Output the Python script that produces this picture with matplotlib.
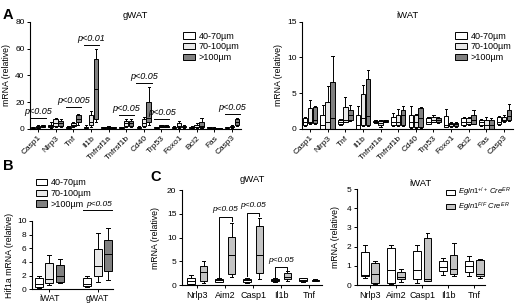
import matplotlib
matplotlib.use("Agg")
import matplotlib.pyplot as plt
from matplotlib.patches import Patch

plt.rcParams["font.family"] = ["Liberation Sans", "DejaVu Sans"]
plt.rcParams["mathtext.fontset"] = "custom"
plt.rcParams["mathtext.rm"] = "Liberation Sans"
plt.rcParams["mathtext.it"] = "Liberation Sans:italic"
plt.rcParams["axes.linewidth"] = 0.8

# ---- data: each entry is (whisker low, q1, median, q3, whisker high) ----
genes_a = ["Casp1", "Nlrp3", "Tnf", "Il1b", "Tnfrsf1a", "Tnfrsf1b", "Cd40",
           "Trp53", "Foxo1", "Bcl2", "Fas", "Casp3"]
size_labels = ["40-70µm", "70-100µm", ">100µm"]

gwat_small = [(0.3, 0.6, 0.9, 1.2, 1.5), (0.5, 1, 2, 3, 5), (0.5, 0.8, 1, 1.5, 2),
              (0.5, 0.8, 1, 1.5, 2.5), (0.5, 0.8, 1, 1.2, 1.5), (0.5, 0.8, 1, 1.2, 1.5),
              (0.5, 0.8, 1, 1.5, 2), (0.5, 0.8, 1, 1.2, 1.5), (0.5, 0.8, 1, 1.5, 2),
              (0.5, 0.8, 1, 1.5, 2), (0.5, 0.8, 1, 1.2, 1.5), (0.5, 0.8, 1, 1.2, 1.5)]
gwat_mid = [(0.5, 0.8, 1.2, 1.8, 2.5), (1, 2, 4, 7, 8), (1, 2, 3, 4, 5),
            (1, 3, 5, 10, 13), (0.5, 0.8, 1, 1.4, 2), (1, 2, 4, 6, 7),
            (1, 2, 4, 7, 9), (1, 1.5, 2, 2.5, 3), (0.5, 1, 2, 4, 6),
            (0.5, 1, 1.5, 3, 4), (0.2, 0.3, 0.5, 0.8, 1), (0.5, 1, 1.5, 2, 3)]
gwat_large = [(1, 1.5, 2, 2.5, 3), (1, 2, 4, 6, 7), (3, 5, 7, 10, 11),
              (5, 7, 30, 52, 60), (0.5, 0.8, 1, 1.3, 1.7), (1, 2, 4, 6, 7),
              (3, 5, 8, 20, 31), (1, 1.3, 1.6, 2, 2.5), (0.5, 1, 1.5, 2, 2.5),
              (0.5, 1, 2, 5, 8), (0.1, 0.2, 0.3, 0.5, 0.7), (2, 3, 5, 7, 8)]
gwat_pvals = ["p<0.05", None, "p<0.005", "p<0.01", None, "p<0.05", "p<0.05",
              "p<0.05", None, None, None, "p<0.05"]
gwat_pline = [8, None, 16, 63, None, 10.5, 34, 7, None, None, None, 11]

iwat_small = [(0.4, 0.5, 1, 1.5, 1.7), (0, 0, 0.5, 2, 3.3), (0.5, 0.6, 1, 1.3, 1.4),
              (0, 0, 0.5, 1.9, 3.2), (0.8, 0.9, 1, 1.1, 1.2), (0.4, 0.5, 1, 1.6, 2.2),
              (0.1, 0.2, 1, 2, 3.2), (0.6, 0.7, 1, 1.5, 1.6), (0.2, 0.3, 0.5, 1.8, 2.8),
              (0.4, 0.5, 1, 1.5, 1.6), (0.4, 0.5, 1, 1.2, 1.4), (0.5, 0.6, 1, 1.7, 1.8)]
iwat_mid = [(0.7, 0.8, 1, 2.9, 4), (0, 0, 1, 3.7, 6), (1, 1, 1.2, 3.1, 4.5),
            (0.4, 0.5, 1.5, 4.9, 6.2), (0.2, 0.5, 0.8, 1.1, 1.2), (0.4, 0.5, 1, 2, 2.8),
            (0.1, 0.2, 1, 1.9, 2.1), (0.9, 1, 1.3, 1.6, 1.9), (0.3, 0.4, 0.6, 0.8, 1),
            (0.5, 0.6, 1, 1.5, 1.6), (0, 0, 0.5, 1.2, 1.7), (1, 1.1, 1.3, 1.6, 2)]
iwat_large = [(0.7, 0.8, 1.2, 3.1, 3.2), (0, 0, 1.5, 6.5, 10.2), (1.1, 1.2, 2, 2.7, 3.3),
              (0.4, 0.5, 1.8, 7, 8.2), (0.9, 1, 1.1, 1.2, 1.3), (0.4, 0.5, 2, 2.7, 3.2),
              (0.1, 0.2, 1.5, 2.9, 3), (0.8, 0.9, 1.2, 1.5, 1.6), (0.3, 0.4, 0.6, 0.8, 0.9),
              (0.6, 0.7, 1.2, 2, 2.7), (0, 0, 0.5, 1.3, 1.5), (1.1, 1.2, 1.8, 2.7, 3.5)]

depots_b = ["iWAT", "gWAT"]
hif_small = [(0.2, 0.4, 0.8, 1.6, 1.9), (0.3, 0.5, 0.8, 1.6, 2.0)]
hif_mid = [(0.6, 1.0, 1.5, 3.9, 5.0), (1.1, 1.9, 3.4, 5.9, 8.2)]
hif_large = [(0.9, 1.1, 1.9, 3.5, 4.4), (1.3, 2.7, 5.1, 7.2, 8.9)]

genes_c = ["Nrlp3", "Aim2", "Casp1", "Il1b", "Tnf"]
geno_labels = [r"$\mathit{Egln1}^{\mathit{+/+}}\ \mathit{Cre}^{\mathit{ER}}$",
               r"$\mathit{Egln1}^{\mathit{F/F}}\ \mathit{Cre}^{\mathit{ER}}$"]
c_gwat_wt = [(0.2, 0.3, 0.8, 1.5, 2.1), (0.6, 0.7, 1, 1.3, 1.5), (0.5, 0.7, 1, 1.2, 1.5),
             (0.7, 0.8, 1, 1.3, 1.4), (0.7, 0.8, 1, 1.4, 1.6)]
c_gwat_ko = [(0.5, 0.8, 2.8, 4, 5), (1.8, 2.3, 6.4, 10.2, 13), (1.2, 2.5, 6.4, 12.4, 14.1),
             (0.9, 1.2, 1.8, 2.6, 3), (0.8, 0.9, 1, 1.1, 1.2)]
c_iwat_wt = [(0.35, 0.45, 0.55, 1.75, 2.1), (0.05, 0.1, 0.8, 1.95, 2.1),
             (0.1, 0.3, 0.8, 1.8, 2.1), (0.55, 0.75, 0.95, 1.25, 1.4),
             (0.45, 0.7, 1.0, 1.25, 1.5)]
c_iwat_ko = [(0.05, 0.1, 0.6, 1.15, 1.25), (0.15, 0.3, 0.4, 0.7, 0.85),
             (0.2, 0.2, 0.3, 2.45, 2.7), (0.45, 0.6, 0.85, 1.55, 2.2),
             (0.35, 0.45, 0.6, 1.3, 1.35)]

size_colors = ["white", "#e8e8e8", "#808080"]
geno_colors = ["white", "#c4c4c4"]


def stats(rows):
    return [dict(whislo=r[0], q1=r[1], med=r[2], q3=r[3], whishi=r[4]) for r in rows]


def draw_boxes(ax, series, colors, offsets, width):
    for vals, col, off in zip(series, colors, offsets):
        ax.bxp(stats(vals), positions=[i + off for i in range(len(vals))],
               widths=width, showfliers=False, patch_artist=True,
               boxprops=dict(facecolor=col, edgecolor="black", linewidth=0.7),
               medianprops=dict(color="black", linewidth=0.7),
               whiskerprops=dict(linewidth=0.7), capprops=dict(linewidth=0.7),
               manage_ticks=False)


def style(ax):
    for s in ["top", "right"]:
        ax.spines[s].set_visible(False)
    ax.tick_params(labelsize=6, length=2.5, width=0.7, pad=1.5)


def size_legend(where, **kw):
    handles = [Patch(facecolor=c, edgecolor="black", linewidth=0.7) for c in size_colors]
    return where.legend(handles, size_labels, frameon=False, fontsize=6.5,
                        handlelength=1.3, handleheight=0.7, labelspacing=0.2,
                        handletextpad=0.4, borderpad=0.1, **kw)


fig = plt.figure(figsize=(5.2, 3.03), dpi=100)

# ---- panel A ----
for left, title, data, yl in [(0.058, "gWAT", (gwat_small, gwat_mid, gwat_large), (0, 80, 20)),
                               (0.581, "iWAT", (iwat_small, iwat_mid, iwat_large), (0, 15, 5))]:
    ax = fig.add_axes([left, 0.575, 0.405, 0.353])
    draw_boxes(ax, data, size_colors, [-0.28, 0, 0.28], 0.26)
    style(ax)
    ax.set_xlim(-0.45, 11.5)
    ax.set_ylim(yl[0], yl[1])
    ax.set_yticks(range(yl[0], yl[1] + 1, yl[2]))
    ax.set_xticks(range(len(genes_a)))
    ax.set_xticklabels(genes_a, rotation=45, ha="right", rotation_mode="anchor")
    ax.set_ylabel("mRNA (relative)", fontsize=6.3, labelpad=3)
    ax.set_title(title, fontsize=6.8, pad=3)
    size_legend(ax, loc="upper right", bbox_to_anchor=(1.02, 0.96))
    if title == "gWAT":
        for i, (pt, py) in enumerate(zip(gwat_pvals, gwat_pline)):
            if pt is None:
                continue
            ax.plot([i - 0.42, i + 0.45], [py, py], color="black", lw=0.7, clip_on=False)
            ax.text(i + 0.02, py + 1.5, pt, ha="center", va="bottom",
                    fontsize=6.5, style="italic")

fig.text(0.005, 0.975, "A", fontsize=10.5, fontweight="bold", va="top")

# ---- panel B ----
axb = fig.add_axes([0.0615, 0.045, 0.156, 0.226])
draw_boxes(axb, (hif_small, hif_mid, hif_large), size_colors, [-0.22, 0, 0.22], 0.17)
style(axb)
axb.set_xlim(-0.36, 1.32)
axb.set_ylim(0, 10)
axb.set_yticks(range(0, 11, 2))
axb.set_xticks(range(len(depots_b)))
axb.set_xticklabels(depots_b, fontsize=6.3)
axb.tick_params(axis="x", pad=1)
axb.set_ylabel("Hif1a mRNA (relative)", fontsize=6.3, labelpad=2)
axb.plot([1 - 0.3, 1 + 0.3], [11.6, 11.6], color="black", lw=0.7, clip_on=False)
axb.text(1.02, 11.9, "p<0.05", ha="center", va="bottom", fontsize=6, style="italic")
size_legend(fig, loc="upper left", bbox_to_anchor=(0.058, 0.43))
fig.text(0.005, 0.475, "B", fontsize=10.5, fontweight="bold", va="top")

# ---- panel C ----
axc1 = fig.add_axes([0.35, 0.059, 0.269, 0.3135])
draw_boxes(axc1, (c_gwat_wt, c_gwat_ko), geno_colors, [-0.22, 0.22], 0.28)
style(axc1)
axc1.set_xlim(-0.55, 4.45)
axc1.set_ylim(0, 20)
axc1.set_yticks(range(0, 21, 5))
axc1.set_xticks(range(len(genes_c)))
axc1.set_xticklabels(genes_c, fontsize=6.5)
axc1.set_ylabel("mRNA (relative)", fontsize=6.3, labelpad=5)
axc1.set_title("gWAT", fontsize=6.8, pad=6)
for i, top, lleg, rleg, label_y in [(1, 14.4, 1.7, 13.5, 15.2), (2, 15.2, 2.0, 14.6, 16.0),
                                     (3, 3.8, 1.6, 3.2, 4.4)]:
    axc1.plot([i - 0.22, i - 0.22, i + 0.22, i + 0.22], [lleg, top, top, rleg],
              color="black", lw=0.7, clip_on=False)
    axc1.text(i, label_y, "p<0.05", ha="center", va="bottom", fontsize=6, style="italic")

axc2 = fig.add_axes([0.6865, 0.059, 0.246, 0.317])
draw_boxes(axc2, (c_iwat_wt, c_iwat_ko), geno_colors, [-0.2, 0.2], 0.3)
style(axc2)
axc2.set_xlim(-0.5, 4.4)
axc2.set_ylim(0, 5)
axc2.set_yticks(range(0, 6))
axc2.set_xticks(range(len(genes_c)))
axc2.set_xticklabels(genes_c, fontsize=6.5)
axc2.set_ylabel("mRNA (relative)", fontsize=6.3, labelpad=5)
axc2.set_title("iWAT", fontsize=6.8, pad=2)
handles = [Patch(facecolor=c, edgecolor="black", linewidth=0.7) for c in geno_colors]
axc2.legend(handles, geno_labels, loc="upper left", bbox_to_anchor=(0.66, 1.08),
            frameon=False, fontsize=5.5, handlelength=1.2, handleheight=0.6,
            labelspacing=0.15, handletextpad=0.4, borderpad=0.1)
fig.text(0.29, 0.44, "C", fontsize=10.5, fontweight="bold", va="top")

fig.savefig("out.png", dpi=100)
